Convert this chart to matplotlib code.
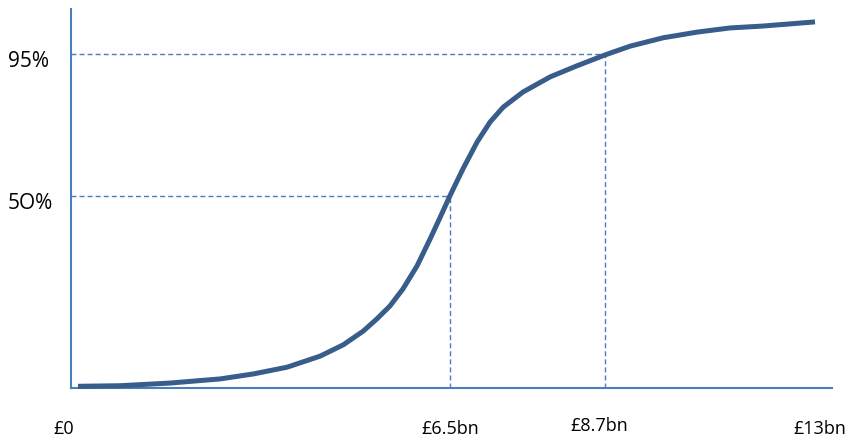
import matplotlib.pyplot as plt
from matplotlib.transforms import blended_transform_factory

# schematic S-curve, values
# x: position along the cost axis (0 = £0, 13 = £13bn end of curve)
# y: height on the probability axis (0 = axis, 100 = top of axis)
curve_x = [0, 0.74, 1.62, 2.51, 3.09, 3.69, 4.27, 4.68, 5.03, 5.27, 5.50,
           5.73, 5.98, 6.21, 6.39, 6.56, 6.79, 7.04, 7.27, 7.50, 7.85,
           8.33, 8.80, 9.30, 9.74, 10.32, 10.92, 11.50, 12.08, 13.0]
curve_y = [0.45, 0.6, 1.3, 2.4, 3.7, 5.5, 8.4, 11.4, 15.0, 18.2, 21.6,
           26.1, 32.2, 39.3, 45.1, 50.7, 57.8, 64.9, 70.2, 74.1, 78.1,
           82.1, 85.0, 87.9, 90.2, 92.4, 93.9, 95.0, 95.5, 96.6]

# dashed guide lines (50% and 95%)
ref_x = [6.56, 9.30]
ref_y = [50.7, 88.1]
ref_labels = ['5O%', '95%']

xtick_pos = [-0.26, 6.56, 9.20, 12.61]
xtick_labels = ['£0', '£6.5bn', '£8.7bn', '£13bn']

plt.rcParams['font.family'] = ['Open Sans', 'DejaVu Sans']

axis_col = '#4A7EBB'
curve_col = '#385D8A'

fig = plt.figure(figsize=(8.47, 4.39), dpi=100)
ax = fig.add_axes([71 / 847, 50 / 439, 761 / 847, 379 / 439])
ax.set_xlim(-0.1235, 13.30)
ax.set_ylim(0, 100)

for s in ['top', 'right']:
    ax.spines[s].set_visible(False)
for s in ['left', 'bottom']:
    ax.spines[s].set_color(axis_col)
    ax.spines[s].set_linewidth(1.5)
ax.set_xticks([])
ax.set_yticks([])

# guide lines
for rx, ry in zip(ref_x, ref_y):
    ax.plot([-0.1235, rx], [ry, ry], color=axis_col, lw=1.0,
            linestyle=(0, (3.6, 2.2)), zorder=2)
    ax.plot([rx, rx], [0, ry], color=axis_col, lw=1.0,
            linestyle=(0, (3.6, 2.2)), zorder=2)

ax.plot(curve_x, curve_y, color=curve_col, lw=3.6,
        solid_capstyle='butt', solid_joinstyle='round', zorder=3, clip_on=False)

# y labels, left aligned near figure edge
ty = blended_transform_factory(fig.transFigure, ax.transData)
for ry, lab in zip(ref_y, ref_labels):
    ax.text(8 / 847, ry - 3.2, lab, transform=ty, ha='left', va='baseline',
            fontsize=15, color='black')

# x labels under the axis
tx = blended_transform_factory(ax.transData, fig.transFigure)
for px, lab in zip(xtick_pos, xtick_labels):
    yy = 4 / 439 if lab == '£8.7bn' else 1 / 439
    ha = 'left' if lab == '£13bn' else 'center'
    ax.text(px, yy, lab, transform=tx, ha=ha, va='bottom',
            fontsize=13, color='black')

fig.savefig('out.png', dpi=100)
